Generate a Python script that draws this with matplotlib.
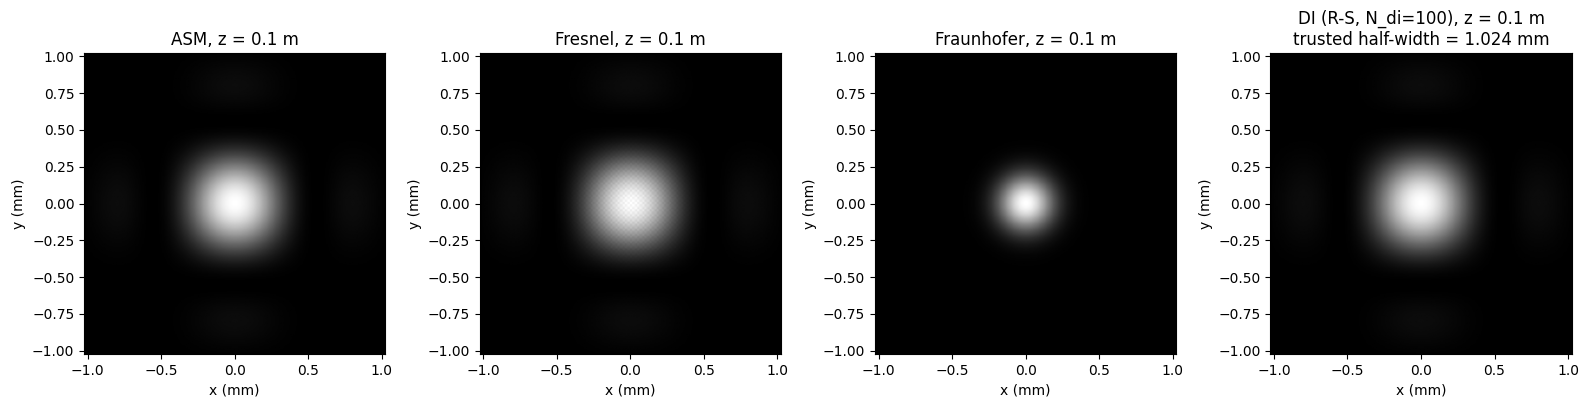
import numpy as np
import matplotlib
matplotlib.use("Agg")
import matplotlib.pyplot as plt

titles = ["ASM, z = 0.1 m", "Fresnel, z = 0.1 m", "Fraunhofer, z = 0.1 m",
          "DI (R-S, N_di=100), z = 0.1 m\ntrusted half-width = 1.024 mm"]
half_width_mm = 1.024
n_pix = 256
# first-zero widths (mm) of the sinc^2 patterns
zero_x = [0.56, 0.56, 0.36, 0.56]
zero_y = [0.56, 0.56, 0.36, 0.56]
gaussian_sigma_mm = 0.13   # Fraunhofer spot looks Gaussian (no side lobes visible)
xticks = [-1.0, -0.5, 0.0, 0.5, 1.0]
yticks = [-1.0, -0.75, -0.5, -0.25, 0.0, 0.25, 0.5, 0.75, 1.0]

x = np.linspace(-half_width_mm, half_width_mm, n_pix)
X, Y = np.meshgrid(x, x)

fig, axes = plt.subplots(1, 4, figsize=(15.89, 4.07), dpi=100)
for i, ax in enumerate(axes):
    if i == 2:
        I = np.exp(-(X**2 + Y**2) / (2 * gaussian_sigma_mm**2))
    else:
        I = (np.sinc(X / zero_x[i]) * np.sinc(Y / zero_y[i])) ** 2
    if i == 1:
        I = I * (1 + 0.04 * np.cos(np.pi * X * 60) * np.cos(np.pi * Y * 60))
    ax.imshow(I, cmap="gray", origin="lower",
              extent=[-half_width_mm, half_width_mm, -half_width_mm, half_width_mm])
    ax.set_title(titles[i])
    ax.set_xlabel("x (mm)")
    ax.set_ylabel("y (mm)")
    ax.set_xticks(xticks)
    ax.set_yticks(yticks)
fig.subplots_adjust(left=0.052, right=0.99, bottom=0.13, top=0.87, wspace=0.3)
fig.savefig("out.png")
